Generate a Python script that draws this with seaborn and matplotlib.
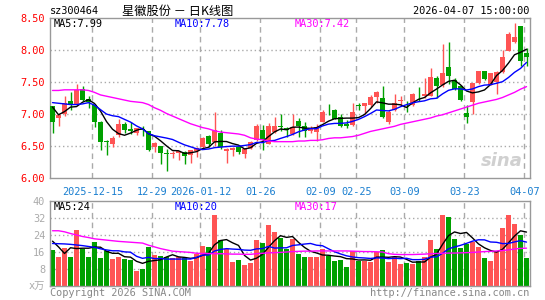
import numpy as np
import pandas as pd
import seaborn as sns
import matplotlib
matplotlib.use("Agg")
from matplotlib import pyplot as plt

# ---- data ----
opens  = [7.11, 6.93, 7.00, 7.20, 7.14, 7.39, 7.22, 7.14, 6.87, 6.57,
          6.53, 6.67, 6.84, 6.76, 6.69, 6.76, 6.72, 6.48, 6.49, 6.38,
          6.37, 6.38, 6.40, 6.35, 6.42, 6.48, 6.65, 6.56, 6.70, 6.42,
          6.43, 6.48, 6.37, 6.46, 6.58, 6.75, 6.53, 6.71, 6.81, 6.77,
          6.68, 6.88, 6.81, 6.72, 6.71, 6.87, 7.09, 7.06, 6.95, 6.84,
          6.82, 7.13, 7.11, 7.13, 7.26, 7.24, 6.86, 7.06, 7.19, 7.14,
          7.13, 7.31, 7.28, 7.28, 7.55, 7.44, 7.72, 7.52, 7.43, 7.01,
          7.18, 7.48, 7.66, 7.45, 7.49, 7.65, 7.98, 8.12, 8.36, 7.95]
closes = [6.87, 6.98, 7.17, 7.15, 7.37, 7.21, 7.18, 6.87, 6.56, 6.55,
          6.61, 6.84, 6.74, 6.73, 6.77, 6.75, 6.43, 6.54, 6.38, 6.37,
          6.39, 6.41, 6.33, 6.43, 6.46, 6.62, 6.52, 6.75, 6.47, 6.45,
          6.46, 6.40, 6.45, 6.56, 6.80, 6.59, 6.80, 6.81, 6.79, 6.74,
          6.79, 6.81, 6.73, 6.77, 6.79, 7.03, 7.08, 6.92, 6.80, 6.81,
          7.03, 7.12, 7.16, 7.26, 7.34, 6.95, 7.02, 7.16, 7.21, 7.13,
          7.31, 7.30, 7.30, 7.57, 7.43, 7.63, 7.58, 7.39, 7.21, 6.95,
          7.48, 7.66, 7.54, 7.63, 7.65, 7.88, 8.24, 8.19, 7.82, 7.89]
highs  = [7.12, 7.00, 7.28, 7.34, 7.46, 7.43, 7.28, 7.15, 6.88, 6.59,
          6.65, 6.91, 6.86, 6.86, 6.78, 6.80, 6.73, 6.55, 6.50, 6.45,
          6.41, 6.41, 6.41, 6.43, 6.48, 6.64, 6.66, 7.03, 6.74, 6.46,
          6.47, 6.49, 6.46, 6.57, 6.84, 6.82, 6.85, 6.94, 6.99, 6.79,
          6.99, 6.93, 6.87, 6.81, 6.83, 7.05, 7.15, 7.07, 7.00, 6.90,
          7.16, 7.16, 7.17, 7.29, 7.35, 7.43, 7.05, 7.30, 7.28, 7.19,
          7.32, 7.41, 7.56, 7.71, 7.58, 8.08, 8.11, 7.55, 7.45, 7.13,
          7.48, 7.67, 7.67, 7.64, 7.66, 7.99, 8.28, 8.41, 8.37, 8.02]
lows   = [6.69, 6.80, 6.96, 7.06, 7.13, 7.19, 7.09, 6.79, 6.43, 6.35,
          6.47, 6.64, 6.70, 6.68, 6.66, 6.65, 6.41, 6.40, 6.21, 6.10,
          6.31, 6.28, 6.21, 6.22, 6.32, 6.46, 6.48, 6.50, 6.44, 6.22,
          6.34, 6.36, 6.30, 6.45, 6.57, 6.43, 6.52, 6.70, 6.73, 6.64,
          6.67, 6.64, 6.64, 6.70, 6.57, 6.87, 6.98, 6.91, 6.79, 6.77,
          6.80, 7.05, 6.99, 7.10, 7.17, 6.93, 6.83, 7.04, 7.11, 7.02,
          7.12, 7.20, 7.24, 7.27, 7.25, 7.42, 7.46, 7.36, 7.20, 6.85,
          6.99, 7.46, 7.52, 7.44, 7.31, 7.64, 7.97, 8.10, 7.74, 7.74]
volume = [16.8, 13.7, 17.8, 13.5, 26.3, 17.6, 13.7, 20.6, 13.1, 16.7,
          12.8, 13.7, 12.6, 12.1, 6.9, 8.0, 18.4, 14.5, 13.9, 13.5,
          13.2, 13.5, 13.2, 11.7, 15.0, 18.7, 18.3, 33.4, 21.6, 17.2,
          11.2, 12.1, 9.8, 10.7, 21.6, 20.2, 28.7, 25.4, 22.5, 17.6,
          22.2, 15.0, 13.5, 13.5, 13.5, 17.5, 14.3, 11.7, 12.1, 8.8,
          16.7, 11.8, 12.0, 11.3, 16.1, 16.9, 11.2, 13.5, 10.4, 10.7,
          10.2, 11.7, 13.5, 21.7, 17.5, 33.4, 32.4, 22.2, 18.0, 20.0,
          20.5, 18.3, 13.1, 11.7, 16.1, 27.2, 33.4, 29.1, 24.1, 13.1]

# moving averages whose history starts before the visible window
ma5_head = [7.10, 6.98, 7.03, 7.10]
ma10_head = [7.17, 7.16, 7.15, 7.14, 7.14, 7.15, 7.17, 7.13, 7.06]
ma30_px = [7.36, 7.36, 7.37, 7.37, 7.37, 7.37, 7.36, 7.33, 7.29, 7.27,
           7.25, 7.23, 7.21, 7.19, 7.18, 7.17, 7.14, 7.09, 7.05, 7.00,
           6.96, 6.92, 6.88, 6.84, 6.81, 6.78, 6.76, 6.73, 6.71, 6.70,
           6.69, 6.68, 6.66, 6.62, 6.60, 6.59, 6.57, 6.56, 6.56, 6.56,
           6.56, 6.57, 6.57, 6.58, 6.58, 6.59, 6.61, 6.62, 6.62, 6.63,
           6.64, 6.66, 6.69, 6.72, 6.74, 6.76, 6.78, 6.80, 6.83, 6.85,
           6.87, 6.89, 6.91, 6.93, 6.96, 6.98, 7.01, 7.04, 7.07, 7.10,
           7.13, 7.16, 7.18, 7.20, 7.22, 7.25, 7.29, 7.33, 7.38, 7.42]
vma5_head = [21.1, 18.4, 15.3, 18.0]
vma10_head = [20.0, 19.9, 19.8, 19.6, 19.3, 19.0, 18.6, 18.2, 17.5]
vma30 = [26.0, 26.0, 25.5, 24.7, 24.0, 23.3, 22.8, 22.2, 21.9, 21.6,
         21.3, 21.0, 20.8, 20.6, 20.4, 20.2, 19.2, 18.4, 17.6, 17.0,
         16.4, 16.2, 16.0, 15.8, 15.4, 15.3, 15.3, 15.2, 15.2, 15.1,
         15.0, 15.0, 14.9, 14.9, 15.2, 15.4, 15.6, 15.7, 15.8, 16.0,
         16.2, 16.3, 16.4, 16.4, 16.5, 16.5, 16.5, 16.5, 16.5, 16.5,
         16.4, 16.3, 16.2, 16.2, 16.1, 16.0, 15.2, 14.9, 14.8, 14.8,
         14.8, 14.9, 15.0, 15.2, 15.3, 15.4, 15.5, 15.5, 15.6, 15.7,
         15.8, 16.0, 16.2, 16.3, 16.5, 16.7, 17.0, 17.4, 17.7, 17.8]

# values printed in the chart legends
ma_labels = ["MA5:7.99", "MA10:7.78", "MA30:7.42"]
vma_labels = ["MA5:24", "MA10:20", "MA30:17"]

holidays = ["2026-01-01", "2026-01-02", "2026-02-16", "2026-02-17", "2026-02-18",
            "2026-02-19", "2026-02-20", "2026-02-23", "2026-04-06"]
tick_dates = ["2025-12-15", "2025-12-29", "2026-01-12", "2026-01-26", "2026-02-09",
              "2026-02-25", "2026-03-09", "2026-03-23", "2026-04-07"]
tick_text = ["2025-12-15", "12-29", "2026-01-12", "01-26", "02-09",
             "02-25", "03-09", "03-23", "04-07"]
price_ticks = [6.0, 6.5, 7.0, 7.5, 8.0, 8.5]
vol_ticks = [8, 16, 24, 32, 40]

# ---- build frame ----
days = pd.bdate_range("2025-12-04", "2026-04-07")
days = days[~days.isin(pd.to_datetime(holidays))]
df = pd.DataFrame({"date": days, "open": opens, "close": closes, "high": highs,
                   "low": lows, "vol": volume})
df["i"] = np.arange(len(df))
df["ma5"] = df["close"].rolling(5).mean()
df.loc[:3, "ma5"] = ma5_head
df["ma10"] = df["close"].rolling(10).mean()
df.loc[:8, "ma10"] = ma10_head
df["ma30"] = ma30_px
df["vma5"] = df["vol"].rolling(5).mean()
df.loc[:3, "vma5"] = vma5_head
df["vma10"] = df["vol"].rolling(10).mean()
df.loc[:8, "vma10"] = vma10_head
df["vma30"] = vma30

RED, GREEN = "#ff5454", "#00a000"
df["col"] = np.where(df["close"] >= df["open"], RED, GREEN)

sns.set_style("white")
plt.rcParams["font.family"] = ["DejaVu Sans Mono", "Noto Sans CJK SC"]
MONO = 7.4

W, H = 545, 300
fig = plt.figure(figsize=(W / 100, H / 100), dpi=100)
ax = fig.add_axes([50 / W, 1 - 177.5 / H, 479.5 / W, 160 / H])
axv = fig.add_axes([50 / W, 1 - 286 / H, 479.5 / W, 85 / H])

tick_idx = [int(np.where(df["date"] == pd.Timestamp(d))[0][0]) for d in tick_dates]
xlim = (-0.42, 79.5)

for a in (ax, axv):
    for s in a.spines.values():
        s.set_color("#999999")
        s.set_linewidth(1)
    a.set_xlim(*xlim)
    a.set_xticks([])
    a.tick_params(length=0)
    for t in tick_idx:
        a.axvline(t - 0.35, color="#aaaaaa", lw=1, ls=(0, (4, 3)), zorder=0)

# ---- candles ----
body_lo = np.minimum(df["open"], df["close"])
body_h = np.maximum((df["close"] - df["open"]).abs(), 0.008)
ax.vlines(df["i"], df["low"], df["high"], colors=df["col"], lw=1, zorder=2)
ax.bar(df["i"], body_h, bottom=body_lo, width=0.8, color=df["col"], lw=0, zorder=3)
sns.lineplot(data=df, x="i", y="ma5", ax=ax, color="black", lw=1, zorder=4)
sns.lineplot(data=df, x="i", y="ma10", ax=ax, color="#0000ff", lw=1, zorder=4)
sns.lineplot(data=df, x="i", y="ma30", ax=ax, color="#ff00ff", lw=1, zorder=4)
ax.set_ylim(6.0, 8.5)
ax.set_yticks(price_ticks)
ax.set_yticklabels([f"{v:.2f}" for v in price_ticks], color="#ff0000", fontsize=MONO)
for v in price_ticks[1:-1]:
    ax.axhline(v, color="#aaaaaa", lw=1, ls=(0, (1, 2)), zorder=0)
ax.set_xlabel("")
ax.set_ylabel("")
ax.text(0.985, 0.1, "sina", transform=ax.transAxes, ha="right", va="center",
        fontsize=13, color="#d0d0d0", style="italic", weight="bold", family="DejaVu Sans")

for t, lab in zip(tick_idx, tick_text):
    ax.text(t - 0.35, -0.06, lab, transform=ax.get_xaxis_transform(), ha="center",
            va="top", fontsize=MONO, color="#1a7fd0")

# ---- volume ----
axv.bar(df["i"], df["vol"], width=0.8, color=df["col"], lw=0, zorder=2)
sns.lineplot(data=df, x="i", y="vma5", ax=axv, color="black", lw=1, zorder=4)
sns.lineplot(data=df, x="i", y="vma10", ax=axv, color="#0000ff", lw=1, zorder=4)
sns.lineplot(data=df, x="i", y="vma30", ax=axv, color="#ff00ff", lw=1, zorder=4)
axv.set_ylim(0, 40)
axv.set_yticks(vol_ticks)
axv.set_yticklabels([str(v) for v in vol_ticks], color="#aaaaaa", fontsize=MONO)
for v in vol_ticks[:-1]:
    axv.axhline(v, color="#aaaaaa", lw=1, ls=(0, (1, 2)), zorder=0)
axv.set_xlabel("")
axv.set_ylabel("")
axv.text(-0.01, 0.0, "x万", transform=axv.transAxes, ha="right", va="center",
         fontsize=MONO, color="#aaaaaa")

# ---- texts ----
def ftext(x, y, s, **kw):
    fig.text(x / W, 1 - y / H, s, va="center", **kw)

ftext(50, 11, "sz300464", fontsize=MONO, color="black")
ftext(178, 11, "星徽股份 － 日K线图", fontsize=8.8, color="black", ha="center",
      family=["Noto Sans CJK SC", "DejaVu Sans"])
ftext(529, 11, "2026-04-07 15:00:00", fontsize=MONO, color="black", ha="right")

colors = ["black", "#0000ff", "#ff00ff"]
for x, lab, vlab, c in zip([54, 175, 295], ma_labels, vma_labels, colors):
    ftext(x, 24, lab, fontsize=MONO, color=c)
    ftext(x, 207, vlab, fontsize=MONO, color=c)

ftext(50, 293, "Copyright 2026 SINA.COM", fontsize=MONO, color="#888888")
ftext(529, 293, "http://finance.sina.com.cn", fontsize=MONO, color="#888888", ha="right")

fig.savefig("out.png", dpi=100, facecolor="white")
